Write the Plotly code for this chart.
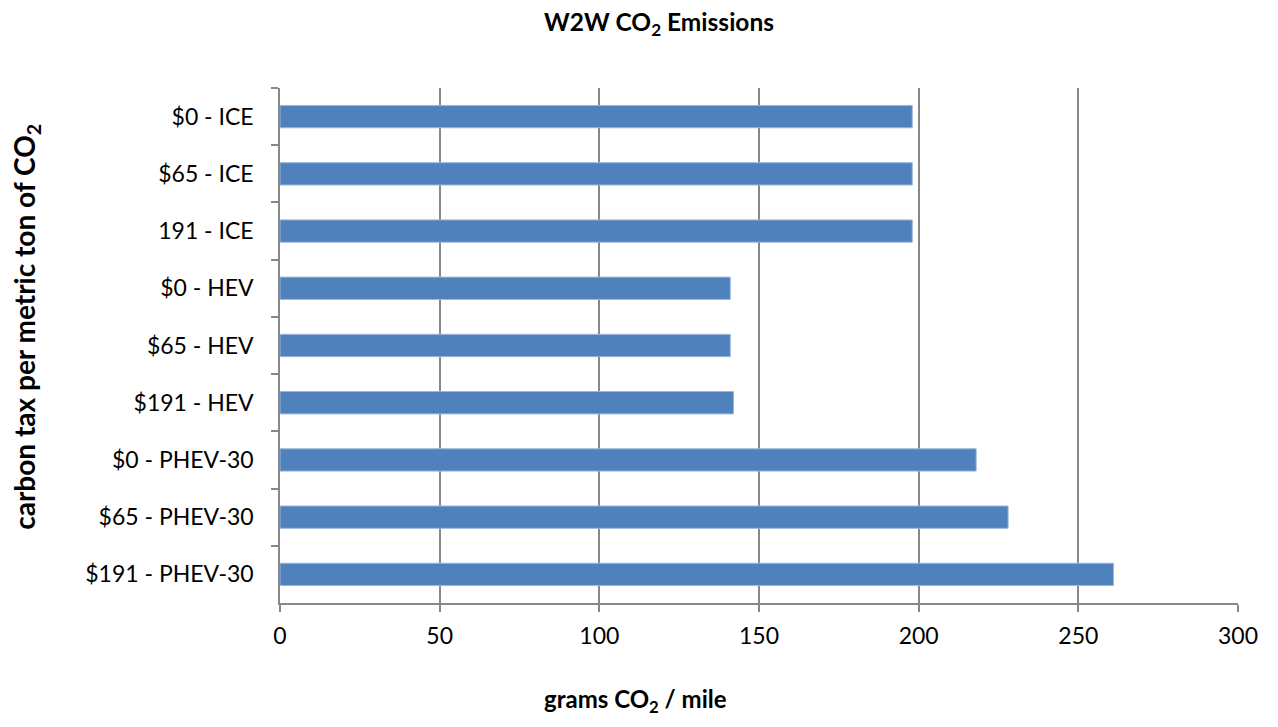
import plotly.graph_objects as go

categories = ["$0 - ICE", "$65 - ICE", "191 - ICE", "$0 - HEV", "$65 - HEV", "$191 - HEV",
              "$0 - PHEV-30", "$65 - PHEV-30", "$191 - PHEV-30"]
values = [198, 198, 198, 141, 141, 142, 218, 228, 261]
x_ticks = [0, 50, 100, 150, 200, 250, 300]

FONT = "Lato, Open Sans, sans-serif"
OFF = 8  # page body margin
W, H = 1278 - 2 * OFF, 727 - 2 * OFF
L, T = 280 - OFF, 88 - OFF
R = W - (1241 - OFF)
B = H - (603 - OFF)

fig = go.Figure(go.Bar(
    x=values, y=categories, orientation="h",
    marker=dict(color="#4F81BD", line=dict(color="#9BB7DB", width=1)),
))

fig.update_layout(
    width=W, height=H,
    margin=dict(l=L, r=R, t=T, b=B),
    paper_bgcolor="white", plot_bgcolor="white",
    bargap=0.61,
    showlegend=False,
    font=dict(family=FONT, size=23, color="black"),
    title=dict(text="<b>W2W CO<sub>2</sub> Emissions</b>", x=(659 - OFF) / W, xanchor="center",
               y=1 - (22 - OFF) / H, yanchor="middle", font=dict(size=24.5)),
)

fig.update_xaxes(
    range=[0, 300], tickvals=x_ticks, ticktext=[str(v) for v in x_ticks],
    showgrid=True, gridcolor="#888888", gridwidth=1.5,
    showline=True, linecolor="#888888", linewidth=1.5,
    ticks="outside", ticklen=7, tickcolor="#888888", tickwidth=1.5,
    zeroline=False, tickfont=dict(size=23), ticklabelstandoff=5,
)
fig.update_yaxes(
    autorange="reversed", type="category",
    showline=True, linecolor="#888888", linewidth=1.5,
    ticks="outside", ticklen=7, tickcolor="#888888", tickwidth=1.5,
    tickson="boundaries", showgrid=False,
    tickfont=dict(size=23), ticklabelstandoff=20,
)

fig.add_annotation(text="<b>grams CO<sub>2</sub> / mile</b>", xref="paper", yref="paper",
                   x=(637 - OFF - L) / (W - L - R), y=-(700 - 603) / (H - T - B),
                   xanchor="center", yanchor="middle", showarrow=False, font=dict(size=24))
fig.add_annotation(text="<b>carbon tax per metric ton of CO<sub>2</sub></b>", xref="paper", yref="paper",
                   x=-(280 - 25) / (W - L - R), y=1 - (327 - 88) / (H - T - B),
                   xanchor="center", yanchor="middle", textangle=-90, showarrow=False,
                   font=dict(size=28))

fig.write_html("out.html")
